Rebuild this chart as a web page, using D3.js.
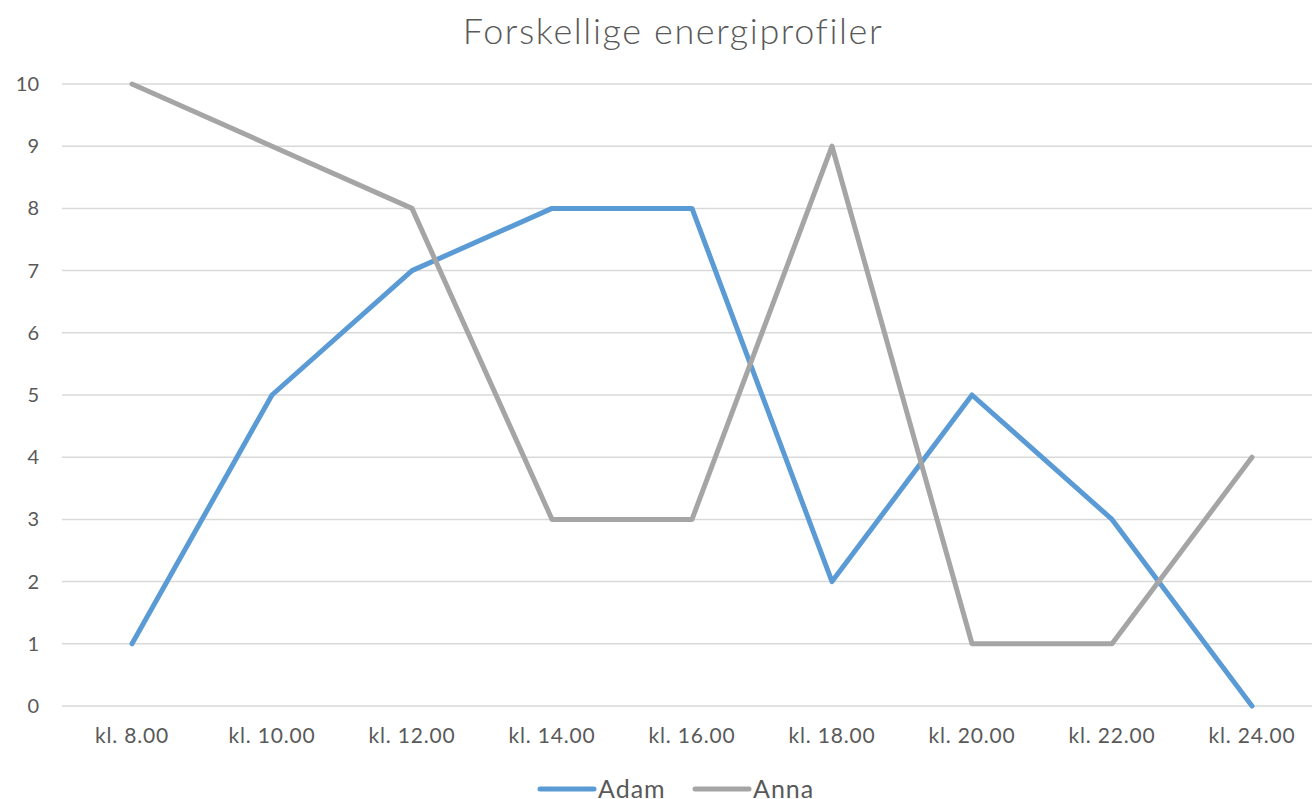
<!DOCTYPE html>
<html>
<head>
<meta charset="utf-8">
<script src="https://cdn.jsdelivr.net/npm/d3@7"></script>
<style>
  body { margin: 0; background: #fff; }
  svg { display: block; font-family: 'Lato', 'Noto Sans', sans-serif; }
</style>
</head>
<body>
<div id="chart"></div>
<script>
// Chart data
const categories = ['kl. 8.00', 'kl. 10.00', 'kl. 12.00', 'kl. 14.00', 'kl. 16.00', 'kl. 18.00', 'kl. 20.00', 'kl. 22.00', 'kl. 24.00']
const adam = [1, 5, 7, 8, 8, 2, 5, 3, 0]
const anna = [10, 9, 8, 3, 3, 9, 1, 1, 4]
const yTicks = [0, 1, 2, 3, 4, 5, 6, 7, 8, 9, 10]
const seriesNames = ['Adam', 'Anna']

const width = 1312,
  height = 799,
  plotLeft = 62,
  plotRight = 1322,
  plotTop = 84,
  plotBottom = 706,
  textColor = '#595959',
  colors = ['#5b9bd5', '#a5a5a5']

let svg = d3.select('#chart')
  .append('svg')
  .attr('width', width)
  .attr('height', height)

const xScale = d3.scaleBand()
  .domain(categories)
  .range([plotLeft, plotRight])

const yScale = d3.scaleLinear()
  .domain([0, 10])
  .range([plotBottom, plotTop])

// title
svg.append('text')
  .attr('x', 673)
  .attr('y', 44)
  .attr('text-anchor', 'middle')
  .attr('font-size', 36)
  .attr('font-weight', 300)
  .attr('letter-spacing', 1.6)
  .attr('fill', textColor)
  .text('Forskellige energiprofiler')

// gridlines
svg.append('g')
  .selectAll('line')
  .data(yTicks)
  .enter()
  .append('line')
  .attr('x1', plotLeft)
  .attr('x2', width)
  .attr('y1', d => yScale(d))
  .attr('y2', d => yScale(d))
  .attr('stroke', '#d9d9d9')
  .attr('stroke-width', 1.5)

// y axis
let yAxis = svg.append('g')
  .attr('transform', `translate(${plotLeft - 23}, 0)`)
  .call(d3.axisLeft(yScale).tickValues(yTicks).tickSize(0).tickPadding(0))
yAxis.select('.domain').remove()
yAxis.selectAll('text')
  .attr('font-size', 20)
  .attr('fill', textColor)
  .attr('font-family', "'Lato', 'Noto Sans', sans-serif")

// x axis
let xAxis = svg.append('g')
  .attr('transform', `translate(0, ${plotBottom})`)
  .call(d3.axisBottom(xScale).tickSize(0).tickPadding(22))
xAxis.select('.domain').remove()
xAxis.selectAll('text')
  .attr('font-size', 21)
  .attr('letter-spacing', 0.8)
  .attr('fill', textColor)
  .attr('font-family', "'Lato', 'Noto Sans', sans-serif")

// lines
const line = d3.line()
  .x((d, i) => xScale(categories[i]) + xScale.bandwidth() / 2)
  .y(d => yScale(d))

;[adam, anna].forEach((series, i) => {
  svg.append('path')
    .datum(series)
    .attr('fill', 'none')
    .attr('stroke', colors[i])
    .attr('stroke-width', 5)
    .attr('stroke-linejoin', 'round')
    .attr('stroke-linecap', 'round')
    .attr('d', line)
})

// legend
const legendX = [540, 695]
let legend = svg.append('g')
  .selectAll('g')
  .data(seriesNames)
  .enter()
  .append('g')
  .attr('transform', (d, i) => `translate(${legendX[i]}, 789)`)

legend.append('line')
  .attr('x1', 0)
  .attr('x2', 54)
  .attr('stroke', (d, i) => colors[i])
  .attr('stroke-width', 5)
  .attr('stroke-linecap', 'round')

legend.append('text')
  .attr('x', 58)
  .attr('y', 9)
  .attr('font-size', 25)
  .attr('letter-spacing', 1)
  .attr('fill', textColor)
  .text(d => d)
</script>
</body>
</html>
